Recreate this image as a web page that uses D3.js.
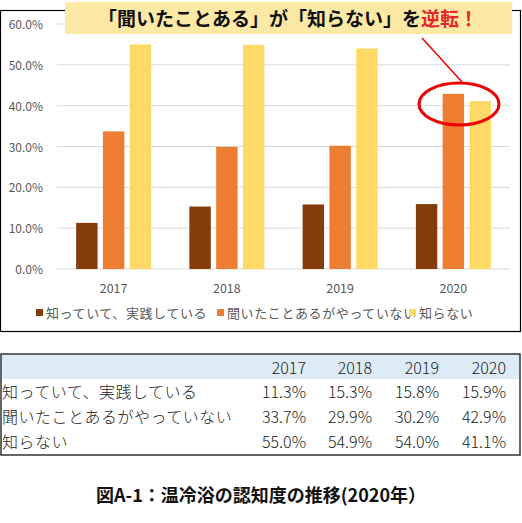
<!DOCTYPE html>
<html><head><meta charset="utf-8">
<script src="https://cdn.jsdelivr.net/npm/d3@7"></script>
<style>body{margin:0;background:#fff;font-family:"Noto Sans CJK JP",sans-serif}</style>
</head><body><svg id="c" width="522" height="523"></svg>
<script>
const years = ["2017", "2018", "2019", "2020"];
const series = ["知っていて、実践している", "聞いたことあるがやっていない", "知らない"];
const values = [
  [11.3, 15.3, 15.8, 15.9],
  [33.7, 29.9, 30.2, 42.9],
  [55.0, 54.9, 54.0, 41.1]
];
const yTicks = [0, 10, 20, 30, 40, 50, 60];
const colors = ["#843c0c", "#ed7d31", "#ffd966"];

const svg = d3.select("#c");
const font = '"Noto Sans CJK JP", sans-serif';

// chart frame
svg.append("rect").attr("x", 0.5).attr("y", 10.5).attr("width", 520).attr("height", 321)
  .attr("fill", "#fff").attr("stroke", "#000").attr("stroke-width", 1.2);

const x = d3.scaleBand().domain(years).range([57, 510]);
const xs = d3.scaleBand().domain(d3.range(3)).range([0, 75]).paddingInner(0.2);
const y = d3.scaleLinear().domain([0, 60]).range([269, 24]);

svg.append("g").selectAll("line").data(yTicks).join("line")
  .attr("x1", 57).attr("x2", 510).attr("y1", d => y(d)).attr("y2", d => y(d))
  .attr("stroke", "#d9d9d9");
svg.append("g").selectAll("text").data(yTicks).join("text")
  .attr("x", 43).attr("y", d => y(d) + 5).attr("text-anchor", "end")
  .attr("font-family", font).attr("font-size", 12).attr("fill", "#595959")
  .text(d => d.toFixed(1) + "%");

years.forEach((yr, j) => {
  const g = svg.append("g").attr("transform", `translate(${x(yr) + x.bandwidth() / 2 - 37.5},0)`);
  series.forEach((s, i) => {
    g.append("rect").attr("x", xs(i)).attr("width", xs.bandwidth())
      .attr("y", y(values[i][j])).attr("height", y(0) - y(values[i][j])).attr("fill", colors[i]);
  });
});
svg.append("g").selectAll("text").data(years).join("text")
  .attr("x", d => x(d) + x.bandwidth() / 2).attr("y", 293).attr("text-anchor", "middle")
  .attr("font-family", font).attr("font-size", 12.5).attr("fill", "#595959").text(d => d);

// legend
const legX = [36, 217, 409];
series.forEach((s, i) => {
  svg.append("rect").attr("x", legX[i]).attr("y", 309).attr("width", 7).attr("height", 7).attr("fill", colors[i]);
  svg.append("text").attr("x", legX[i] + 10).attr("y", 318).attr("font-family", font)
    .attr("font-size", 13).attr("letter-spacing", 0.6).attr("fill", "#595959").text(s);
});

// annotation
svg.append("rect").attr("x", 65).attr("y", 2).attr("width", 447).attr("height", 32).attr("fill", "#fde9a6");
const t = svg.append("text").attr("x", 288).attr("y", 26).attr("text-anchor", "middle")
  .attr("font-family", font).attr("font-size", 19).attr("font-weight", "bold").attr("fill", "#111");
t.append("tspan").text("「聞いたことある」が「知らない」を");
t.append("tspan").attr("fill", "#e8272b").text("逆転！");
svg.append("line").attr("x1", 422).attr("y1", 38).attr("x2", 462).attr("y2", 82)
  .attr("stroke", "#e00").attr("stroke-width", 1.5);
svg.append("ellipse").attr("cx", 459).attr("cy", 104).attr("rx", 40).attr("ry", 21)
  .attr("fill", "none").attr("stroke", "#e00").attr("stroke-width", 3);

// table
svg.append("rect").attr("x", 1).attr("y", 354).attr("width", 519).attr("height", 101)
  .attr("fill", "#fff").attr("stroke", "#333").attr("stroke-width", 1.5);
svg.append("rect").attr("x", 2).attr("y", 355).attr("width", 517).attr("height", 24).attr("fill", "#ddebf7");
const colX = [306, 372, 439, 506];
const fs = 16;
years.forEach((yr, j) => {
  svg.append("text").attr("x", colX[j]).attr("y", 374).attr("text-anchor", "end")
    .attr("font-family", font).attr("font-size", fs).attr("font-weight", 300).attr("fill", "#222").text(yr);
});
series.forEach((s, i) => {
  const ry = 398 + i * 25;
  svg.append("text").attr("x", 2).attr("y", ry).attr("font-family", font).attr("font-size", fs)
    .attr("font-weight", 300).attr("letter-spacing", 0.5).attr("fill", "#222").text(s);
  values[i].forEach((v, j) => {
    svg.append("text").attr("x", colX[j]).attr("y", ry).attr("text-anchor", "end")
      .attr("font-family", font).attr("font-size", fs).attr("font-weight", 300).attr("fill", "#222")
      .text(v.toFixed(1) + "%");
  });
});

svg.append("text").attr("x", 261).attr("y", 502).attr("text-anchor", "middle")
  .attr("font-family", font).attr("font-size", 18).attr("font-weight", "bold").attr("fill", "#111")
  .text("図A-1：温冷浴の認知度の推移(2020年）");
</script></body></html>
